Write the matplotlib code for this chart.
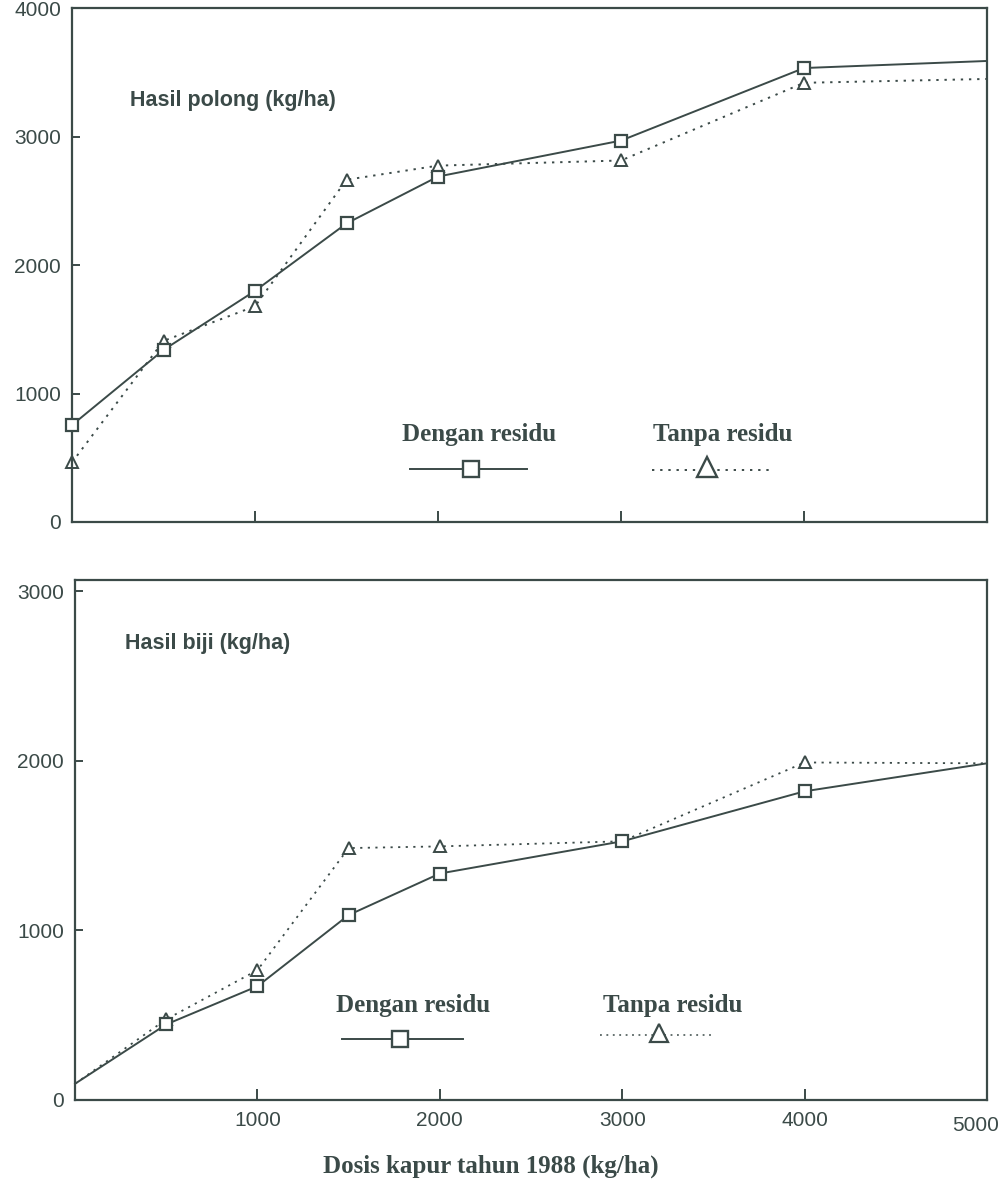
import matplotlib
matplotlib.use("Agg")
import matplotlib.pyplot as plt
from matplotlib.transforms import ScaledTranslation

# ---- data ----
dose = [0, 500, 1000, 1500, 2000, 3000, 4000, 5000]

pod_with_residue = [755, 1340, 1800, 2325, 2690, 2970, 3535, 3590]
pod_without_residue = [465, 1410, 1680, 2665, 2775, 2815, 3420, 3450]

seed_with_residue = [95, 445, 670, 1090, 1335, 1525, 1820, 1985]
seed_without_residue = [95, 475, 765, 1485, 1495, 1525, 1990, 1985]

y_ticks_top = [0, 1000, 2000, 3000, 4000]
y_ticks_bottom = [0, 1000, 2000, 3000]
x_ticks = [1000, 2000, 3000, 4000, 5000]

label_top = "Hasil polong (kg/ha)"
label_bottom = "Hasil biji (kg/ha)"
legend_with = "Dengan residu"
legend_without = "Tanpa residu"
x_label = "Dosis kapur tahun 1988 (kg/ha)"

INK = "#3b4a48"
SANS = ["Liberation Sans", "DejaVu Sans"]
SERIF = ["Liberation Serif", "DejaVu Serif"]

fig = plt.figure(figsize=(10.01, 11.89), dpi=100)
fig.patch.set_facecolor("white")

ax1 = fig.add_axes([0.072, 0.561, 0.914, 0.432])
ax2 = fig.add_axes([0.075, 0.075, 0.911, 0.437])

DOT = (0, (1.2, 3.0))

def style_axes(ax, yticks, ylim_top, show_xlabels):
    ax.set_xlim(0, 5000)
    ax.set_ylim(0, ylim_top)
    for s in ax.spines.values():
        s.set_color(INK)
        s.set_linewidth(1.6)
    ax.set_yticks(yticks)
    ax.set_yticklabels([str(v) for v in yticks], fontsize=15, color=INK,
                       family=SANS)
    ax.set_xticks(x_ticks)
    if show_xlabels:
        ax.set_xticklabels([str(v) for v in x_ticks], fontsize=15, color=INK,
                           family=SANS)
    else:
        ax.set_xticklabels([])
    ax.tick_params(axis="y", direction="in", length=6, width=1.4, color=INK, pad=8)
    ax.tick_params(axis="x", direction="in", length=8, width=1.4, color=INK, pad=8)

# ---- top panel ----
style_axes(ax1, y_ticks_top, 4000, False)
ax1.plot(dose, pod_with_residue, color=INK, lw=1.4, ls="-",
         marker="s", ms=9, mfc="white", mec=INK, mew=1.6,
         markevery=[0, 1, 2, 3, 4, 5, 6], clip_on=False, zorder=3)
ax1.plot(dose, pod_without_residue, color=INK, lw=1.4, ls=DOT,
         marker="^", ms=9, mfc="white", mec=INK, mew=1.4,
         markevery=[0, 1, 2, 3, 4, 5, 6], clip_on=False, zorder=2)
ax1.text(0.063, 0.821, label_top, transform=ax1.transAxes, fontsize=15.5,
         fontweight="bold", color=INK, family=SANS, va="center", ha="left")

# legend (top)
ax1.text(0.445, 0.171, legend_with, transform=ax1.transAxes, fontsize=18,
         fontweight="bold", color=INK, family=SERIF, ha="center", va="center")
ax1.plot([0.369, 0.497], [0.103, 0.103], transform=ax1.transAxes,
         color=INK, lw=1.4, ls="-")
ax1.plot([0.436], [0.103], transform=ax1.transAxes, marker="s", ms=11.5,
         mfc="white", mec=INK, mew=1.7, ls="none")
ax1.text(0.711, 0.171, legend_without, transform=ax1.transAxes, fontsize=18,
         fontweight="bold", color=INK, family=SERIF, ha="center", va="center")
ax1.plot([0.634, 0.763], [0.101, 0.101], transform=ax1.transAxes,
         color=INK, lw=1.4, ls=DOT)
ax1.plot([0.694], [0.107], transform=ax1.transAxes, marker="^", ms=15,
         mfc="white", mec=INK, mew=1.7, ls="none")

# ---- bottom panel ----
style_axes(ax2, y_ticks_bottom, 3065, True)
ax2.plot(dose, seed_with_residue, color=INK, lw=1.4, ls="-",
         marker="s", ms=9, mfc="white", mec=INK, mew=1.6,
         markevery=[1, 2, 3, 4, 5, 6], clip_on=False, zorder=3)
ax2.plot(dose, seed_without_residue, color=INK, lw=1.3, ls=DOT,
         marker="^", ms=9, mfc="white", mec=INK, mew=1.4,
         markevery=[1, 2, 3, 4, 6], clip_on=False, zorder=2)
ax2.text(0.055, 0.879, label_bottom, transform=ax2.transAxes, fontsize=15.5,
         fontweight="bold", color=INK, family=SANS, va="center", ha="left")

# legend (bottom)
ax2.text(0.371, 0.181, legend_with, transform=ax2.transAxes, fontsize=18,
         fontweight="bold", color=INK, family=SERIF, ha="center", va="center")
ax2.plot([0.293, 0.425], [0.118, 0.118], transform=ax2.transAxes,
         color=INK, lw=1.4, ls="-")
ax2.plot([0.356], [0.118], transform=ax2.transAxes, marker="s", ms=11,
         mfc="white", mec=INK, mew=1.7, ls="none")
ax2.text(0.655, 0.181, legend_without, transform=ax2.transAxes, fontsize=18,
         fontweight="bold", color=INK, family=SERIF, ha="center", va="center")
ax2.plot([0.576, 0.702], [0.125, 0.125], transform=ax2.transAxes,
         color=INK, lw=1.1, ls=DOT)
ax2.plot([0.640], [0.128], transform=ax2.transAxes, marker="^", ms=13,
         mfc="white", mec=INK, mew=1.6, ls="none")

ax2.set_xlabel(x_label, fontsize=18, fontweight="bold", color=INK,
               family=SERIF, labelpad=10)
ax2.xaxis.set_label_coords((491 - 75) / 912, -0.105)

# nudge the last tick label inward, as in the original
fig.canvas.draw()
last = ax2.get_xticklabels()[-1]
last.set_transform(last.get_transform() + ScaledTranslation(-0.11, -0.05, fig.dpi_scale_trans))

fig.savefig("out.png", dpi=100, facecolor="white")
